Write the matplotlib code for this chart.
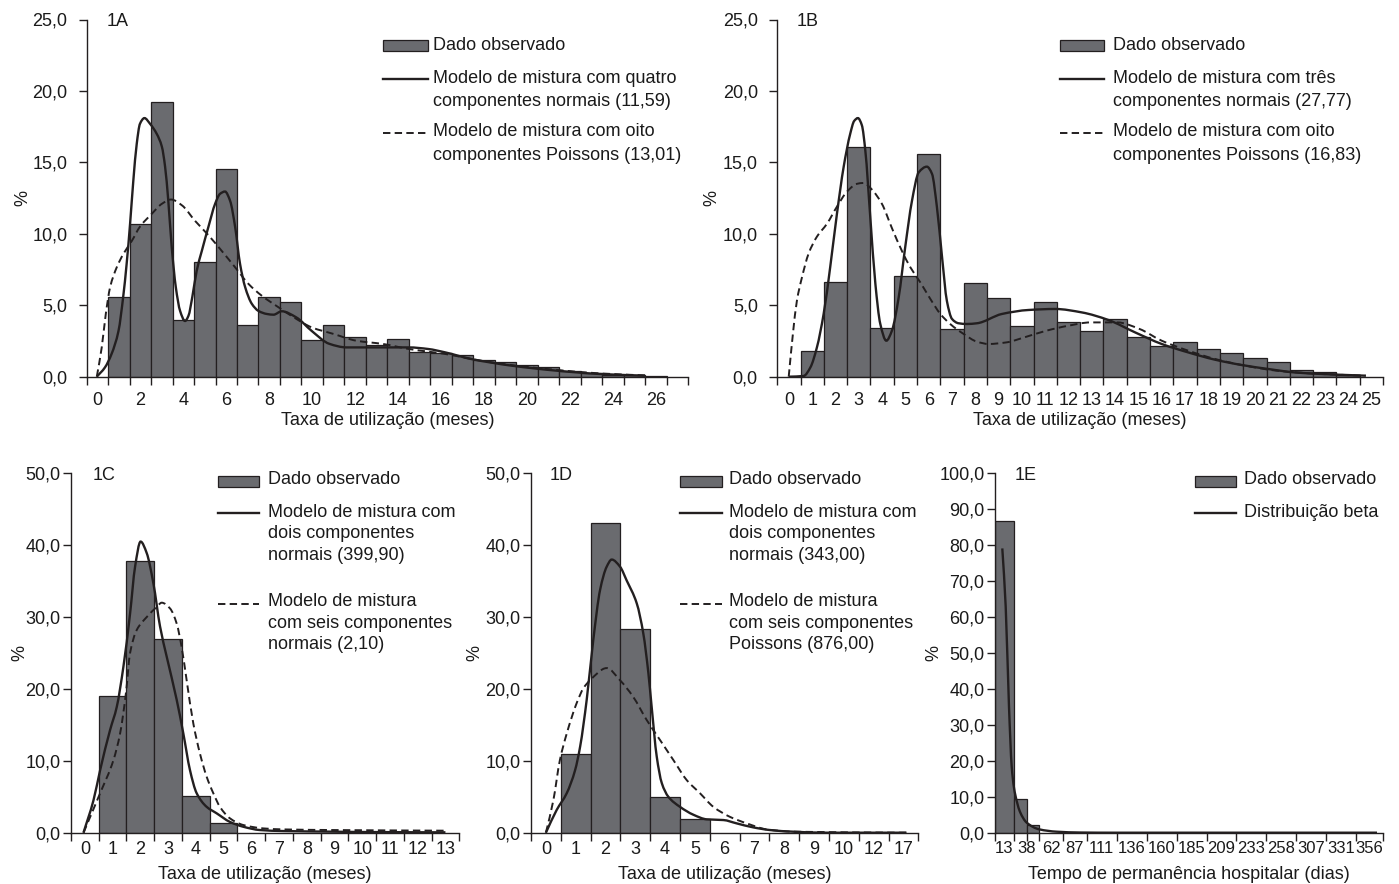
import matplotlib
matplotlib.use('Agg')
import matplotlib.pyplot as plt
from matplotlib.lines import Line2D
from matplotlib.patches import Rectangle, PathPatch
from matplotlib.path import Path

plt.rcParams['font.family'] = ['Liberation Sans', 'DejaVu Sans']

# ---------------- data ----------------
# Panel 1A
a_bar_x = list(range(1, 27))
a_bar_y = [5.6, 10.7, 19.25, 4.0, 8.05, 14.55, 3.6, 5.6, 5.25, 2.6, 3.65, 2.8, 2.25,
           2.65, 1.7, 1.65, 1.5, 1.15, 1.05, 0.8, 0.65, 0.4, 0.25, 0.15, 0.12, 0.08]
a_sol_x = [-0.03, 0.35, 0.66, 0.98, 1.2, 1.36, 1.52, 1.67, 1.83, 1.98, 2.19, 2.45, 2.76,
           3.0, 3.15, 3.3, 3.46, 3.65, 3.85, 4.08, 4.24, 4.42, 4.62, 4.86, 5.17, 5.48,
           5.71, 5.94, 6.18, 6.41, 6.64, 6.88, 7.19, 7.5, 7.89, 8.2, 8.58, 9.26, 9.98,
           10.8, 11.6, 13.1, 14.5, 15.4, 16.2, 17.4, 19.3, 21.4, 23.4, 25.5]
a_sol_y = [0.0, 0.65, 1.6, 3.2, 5.6, 7.9, 10.7, 13.7, 16.3, 17.7, 18.1, 17.7, 17.0,
           16.1, 14.7, 12.3, 9.06, 6.26, 4.6, 3.9, 4.27, 5.6, 7.4, 8.8, 10.5, 12.1,
           12.8, 12.96, 12.3, 10.5, 7.9, 6.26, 5.1, 4.6, 4.39, 4.34, 4.58, 4.15, 3.2,
           2.3, 2.05, 2.05, 2.05, 1.94, 1.7, 1.24, 0.77, 0.42, 0.19, 0.07]
a_das_x = [-0.03, 0.2, 0.39, 0.59, 0.9, 1.21, 1.6, 1.98, 2.53, 3.0, 3.43, 3.93, 4.55,
           5.17, 5.79, 6.41, 7.03, 7.65, 8.43, 9.15, 9.98, 11.0, 12.05, 13.3, 14.5, 16.2,
           17.85, 19.5, 21.4, 23.4, 25.5]
a_das_y = [0.0, 2.05, 4.4, 6.26, 7.66, 8.6, 9.5, 10.5, 11.4, 12.1, 12.4, 12.0, 10.9,
           9.9, 8.8, 7.66, 6.5, 5.67, 4.86, 4.15, 3.45, 2.99, 2.52, 2.29, 1.94, 1.59,
           1.12, 0.77, 0.47, 0.23, 0.09]
a_ticklabels = [str(v) for v in range(0, 27, 2)]

# Panel 1B
b_bar_x = list(range(1, 25))
b_bar_y = [1.8, 6.6, 16.05, 3.4, 7.05, 15.6, 3.35, 6.55, 5.5, 3.55, 5.2, 3.85, 3.2, 4.05,
           2.75, 2.15, 2.45, 1.95, 1.65, 1.3, 1.05, 0.45, 0.3, 0.15]
b_sol_x = [0.0, 0.63, 0.92, 1.2, 1.49, 1.77, 2.06, 2.35, 2.63, 2.8, 2.96, 3.13, 3.28,
           3.49, 3.71, 3.92, 4.18, 4.42, 4.71, 4.99, 5.28, 5.57, 5.92, 6.14, 6.35, 6.57,
           6.78, 7.0, 7.28, 7.64, 8.07, 9.14, 10.29, 11.43, 12.57, 13.71, 14.86, 16.0,
           17.14, 18.29, 19.43, 20.57, 21.7, 22.86, 24.76]
b_sol_y = [0.0, 0.05, 0.65, 2.05, 4.4, 7.66, 11.4, 14.7, 17.0, 17.9, 18.1, 17.6, 15.8,
           11.2, 6.5, 3.7, 2.52, 3.22, 5.55, 9.06, 12.3, 14.3, 14.7, 14.2, 11.9, 8.4,
           5.3, 4.04, 3.74, 3.69, 3.74, 4.39, 4.67, 4.74, 4.5, 3.97, 3.1, 2.29, 1.7,
           1.19, 0.82, 0.54, 0.30, 0.19, 0.07]
b_das_x = [-0.01, 0.17, 0.34, 0.56, 0.84, 1.2, 1.63, 2.06, 2.49, 2.92, 3.2, 3.56, 3.99,
           4.42, 4.85, 5.21, 5.64, 6.07, 6.5, 6.92, 7.5, 8.07, 8.57, 9.33, 10.1, 11.05,
           12.0, 12.95, 14.1, 15.05, 16.0, 17.14, 18.29, 19.43, 20.95, 22.86, 24.76]
b_das_y = [0.0, 3.0, 5.3, 6.96, 8.6, 9.8, 10.7, 11.9, 12.95, 13.5, 13.56, 13.1, 12.1,
           10.4, 8.8, 7.66, 6.6, 5.44, 4.39, 3.69, 2.99, 2.45, 2.29, 2.4, 2.75, 3.22,
           3.57, 3.8, 3.8, 3.34, 2.52, 1.82, 1.24, 0.82, 0.42, 0.19, 0.07]
b_ticklabels = [str(v) for v in range(0, 26)]

# Panel 1C
c_bar_x = [1, 2, 3, 4, 5]
c_bar_y = [19.0, 37.85, 26.9, 5.1, 1.4]
c_sol_x = [-0.05, 0.31, 0.55, 0.91, 1.15, 1.39, 1.63, 1.81, 2.01, 2.23, 2.47, 2.71, 2.95,
           3.31, 3.55, 3.79, 4.03, 4.39, 4.75, 5.23, 5.71, 6.31, 7.15, 8.96, 10.2, 13.0]
c_sol_y = [0.0, 4.5, 8.7, 14.3, 17.5, 23.1, 30.5, 37.0, 40.5, 38.9, 34.7, 28.7, 24.5,
           18.5, 13.8, 8.7, 5.5, 3.6, 2.7, 1.5, 0.83, 0.37, 0.23, 0.14, 0.09, 0.05]
c_das_x = [-0.05, 0.55, 1.03, 1.27, 1.48, 1.63, 1.87, 2.23, 2.59, 2.77, 3.07, 3.31, 3.49,
           3.67, 3.91, 4.15, 4.39, 4.63, 4.87, 5.23, 5.71, 6.43, 7.15, 8.96, 13.05]
c_das_y = [0.0, 5.5, 10.1, 13.8, 19.4, 25.0, 28.2, 30.0, 31.4, 32.0, 31.2, 29.1, 25.8,
           21.2, 15.2, 11.0, 7.8, 5.5, 3.6, 2.0, 1.07, 0.6, 0.46, 0.37, 0.28]
c_ticklabels = [str(v) for v in range(0, 14)]

# Panel 1D
d_bar_x = [1, 2, 3, 4, 5]
d_bar_y = [10.9, 43.1, 28.4, 5.0, 1.9]
d_sol_x = [0.0, 0.36, 0.7, 0.98, 1.15, 1.37, 1.59, 1.82, 2.04, 2.21, 2.49, 2.71, 3.05,
           3.27, 3.44, 3.55, 3.72, 3.89, 4.11, 4.5, 4.95, 5.4, 5.96, 6.4, 6.96, 7.52, 8.3,
           9.42, 12.1]
d_sol_y = [0.0, 3.15, 5.5, 8.7, 12.0, 18.5, 26.8, 33.8, 37.0, 38.0, 37.0, 35.1, 31.9,
           27.7, 22.2, 17.5, 10.6, 6.9, 5.0, 3.6, 2.5, 1.86, 1.76, 1.3, 0.74, 0.37, 0.14,
           0.0, 0.0]
d_das_x = [0.0, 0.25, 0.47, 0.7, 1.03, 1.26, 1.48, 2.04, 2.49, 2.93, 3.38, 3.83, 4.28,
           4.73, 5.17, 5.62, 6.18, 6.74, 7.41, 8.3, 12.1]
d_das_y = [0.0, 4.5, 10.1, 13.8, 18.0, 20.1, 21.2, 22.9, 21.2, 18.9, 15.7, 12.9, 10.1,
           7.3, 5.5, 3.6, 2.2, 1.3, 0.46, 0.14, 0.0]
d_ticklabels = ['0', '1', '2', '3', '4', '5', '6', '7', '8', '9', '10', '12', '17']

# Panel 1E (x in display units of the original, non-uniform category axis)
e_labels = ['13', '38', '62', '87', '111', '136', '160', '185', '209', '233', '258',
            '307', '331', '356']
e_bar_y = [86.8, 9.3, 2.1]
e_cur_x = [7.3, 10.7, 14.0, 16.7, 19.0, 22.0, 25.0, 31.7, 44.3, 61.7, 85.0, 120.0, 382.0]
e_cur_y = [79.1, 62.9, 35.0, 18.4, 12.5, 8.5, 5.8, 2.8, 0.93, 0.28, 0.05, 0.0, 0.0]

# ---------------- layout / style ----------------
E_EDGES = [0, 19, 31.7, 44.3, 67.7, 91.7, 121.7, 151.7, 181.7, 211.7, 241, 270.7,
           300.7, 330.7, 360.7, 387.7]
E_SPANS = [(0, 1), (1, 3), (3, 4), (4, 5), (5, 6), (6, 7), (7, 8), (8, 9), (9, 10),
           (10, 11), (11, 12), (12, 13), (13, 14), (14, 15)]

W, H = 1399, 884
fig = plt.figure(figsize=(W / 100, H / 100), dpi=100)
BAR = '#6a6b6f'
INK = '#231f20'
TXT = '#1a1a1a'
FS = 13
DASH = (0, (3.8, 2.2))


def px_axes(x0, x1, yt, yb):
    return fig.add_axes([x0 / W, 1 - yb / H, (x1 - x0) / W, (yb - yt) / H])


def style(ax, xlim, ymax, ystep, tick_pos, tick_lab, minor_pos, ypad, xpad,
          xfs=FS, ylab_dx=60, xlab_dy=43):
    for s in ('top', 'right'):
        ax.spines[s].set_visible(False)
    for s in ('left', 'bottom'):
        ax.spines[s].set_linewidth(1.0)
        ax.spines[s].set_color(INK)
    ax.set_xlim(*xlim)
    ax.set_ylim(0, ymax)
    yt = [i * ystep for i in range(int(round(ymax / ystep)) + 1)]
    ax.set_yticks(yt)
    ax.set_yticklabels([f"{v:.1f}".replace('.', ',') for v in yt], fontsize=FS)
    ax.tick_params(axis='y', direction='out', length=6, width=1, pad=ypad,
                   colors=INK, labelcolor=TXT)
    ax.set_xticks(tick_pos)
    ax.set_xticklabels(tick_lab, fontsize=xfs)
    ax.set_xticks(minor_pos, minor=True)
    ax.tick_params(axis='x', which='major', length=0, pad=xpad, labelcolor=TXT)
    ax.tick_params(axis='x', which='minor', direction='out', length=6, width=1,
                   colors=INK)
    bb = ax.get_position()
    wpx, hpx = bb.width * W, bb.height * H
    ax.set_ylabel('%', fontsize=FS, color=TXT)
    ax.yaxis.set_label_coords(-ylab_dx / wpx, 0.5)
    ax.yaxis.label.set_va('center')
    ax.xaxis.set_label_coords(0.5, -xlab_dy / hpx)
    ax.xaxis.label.set_va('center')


def smooth_path(xs, ys):
    """Monotone cubic (PCHIP-style) Bezier path through the read points."""
    n = len(xs)
    h = [xs[i + 1] - xs[i] for i in range(n - 1)]
    d = [(ys[i + 1] - ys[i]) / h[i] for i in range(n - 1)]
    m = [0.0] * n
    m[0], m[-1] = d[0], d[-1]
    for k in range(1, n - 1):
        if d[k - 1] * d[k] <= 0:
            m[k] = 0.0
        else:
            w1 = 2 * h[k] + h[k - 1]
            w2 = h[k] + 2 * h[k - 1]
            m[k] = (w1 + w2) / (w1 / d[k - 1] + w2 / d[k])
    verts = [(xs[0], ys[0])]
    codes = [Path.MOVETO]
    for i in range(n - 1):
        t = h[i] / 3.0
        verts += [(xs[i] + t, ys[i] + m[i] * t),
                  (xs[i + 1] - t, ys[i + 1] - m[i + 1] * t),
                  (xs[i + 1], ys[i + 1])]
        codes += [Path.CURVE4] * 3
    return Path(verts, codes)


def curve(ax, xs, ys, dashed=False):
    kw = dict(ls=DASH, lw=1.4) if dashed else dict(ls='-', lw=1.7)
    ax.add_patch(PathPatch(smooth_path(xs, ys), fill=False, edgecolor=INK, zorder=3,
                           capstyle='butt', **kw))


def bars(ax, x, y, width=1.0):
    ax.bar(x, y, width=width, color=BAR, edgecolor=INK, linewidth=0.9, zorder=2,
           align='center')


def fpt(x, y):
    return x / W, 1 - y / H


def leg_patch(x0, x1, yc):
    fig.patches.append(Rectangle(fpt(x0, yc + 5.5), (x1 - x0) / W, 11 / H,
                                 transform=fig.transFigure, facecolor=BAR,
                                 edgecolor=INK, lw=0.9))


def leg_line(x0, x1, yc, dashed=False):
    kw = dict(ls=DASH, lw=1.4) if dashed else dict(ls='-', lw=1.7)
    fig.add_artist(Line2D([x0 / W, x1 / W], [1 - yc / H] * 2, transform=fig.transFigure,
                          color=INK, **kw))


def ftext(x, y, s, fs=FS):
    fig.text(x / W, 1 - y / H, s, ha='left', va='center', fontsize=fs, color=TXT)


def half_ticks(n_last):
    return [i - 0.5 for i in range(0, n_last + 2)]


# ---------- 1A ----------
axA = px_axes(86.7, 688, 19.5, 376.7)
bars(axA, a_bar_x, a_bar_y)
curve(axA, a_sol_x, a_sol_y)
curve(axA, a_das_x, a_das_y, dashed=True)
style(axA, (-0.5, 27.5), 25, 5, list(range(0, 27, 2)), a_ticklabels, half_ticks(27),
      ypad=8, xpad=11, ylab_dx=64, xlab_dy=44)
axA.set_xlabel('Taxa de utilização (meses)', fontsize=FS, color=TXT)

# ---------- 1B ----------
axB = px_axes(777.3, 1383, 19.5, 376.7)
bars(axB, b_bar_x, b_bar_y)
curve(axB, b_sol_x, b_sol_y)
curve(axB, b_das_x, b_das_y, dashed=True)
style(axB, (-0.5, 25.5), 25, 5, list(range(0, 26)), b_ticklabels, half_ticks(25),
      ypad=8, xpad=11, ylab_dx=65, xlab_dy=44)
axB.set_xlabel('Taxa de utilização (meses)', fontsize=FS, color=TXT)

# ---------- 1C ----------
axC = px_axes(71, 459.3, 473.3, 832.7)
bars(axC, c_bar_x, c_bar_y)
curve(axC, c_sol_x, c_sol_y)
curve(axC, c_das_x, c_das_y, dashed=True)
style(axC, (-0.5, 13.5), 50, 10, list(range(0, 14)), c_ticklabels, half_ticks(13),
      ypad=1.5, xpad=6, ylab_dx=51, xlab_dy=42)
axC.set_xlabel('Taxa de utilização (meses)', fontsize=FS, color=TXT)

# ---------- 1D ----------
axD = px_axes(531, 918.3, 473.3, 832.7)
bars(axD, d_bar_x, d_bar_y)
curve(axD, d_sol_x, d_sol_y)
curve(axD, d_das_x, d_das_y, dashed=True)
style(axD, (-0.5, 12.5), 50, 10, list(range(0, 13)), d_ticklabels, half_ticks(12),
      ypad=1.5, xpad=6, ylab_dx=56, xlab_dy=42)
axD.set_xlabel('Taxa de utilização (meses)', fontsize=FS, color=TXT)

# ---------- 1E ----------
axE = px_axes(995, 1382.7, 473.3, 832.7)
e_left = E_EDGES[:len(e_bar_y)]
e_width = [E_EDGES[i + 1] - E_EDGES[i] for i in range(len(e_bar_y))]
axE.bar(e_left, e_bar_y, width=e_width, align='edge', color=BAR, edgecolor=INK,
        linewidth=0.9, zorder=2)
curve(axE, e_cur_x, e_cur_y)
e_pos = [(E_EDGES[a] + E_EDGES[b]) / 2 for a, b in E_SPANS]
style(axE, (0, E_EDGES[-1]), 100, 10, e_pos, e_labels, E_EDGES,
      ypad=1.5, xpad=6, xfs=12, ylab_dx=61, xlab_dy=42)
axE.set_xlabel('Tempo de permanência hospitalar (dias)', fontsize=FS, color=TXT)

# ---------- panel tags ----------
for x, y, s in [(107, 22, '1A'), (797, 22, '1B'), (93, 476, '1C'), (550, 476, '1D'),
                (1015, 476, '1E')]:
    ftext(x, y, s)

# ---------- legends ----------
# 1A
leg_patch(383, 428, 45); ftext(433, 45, 'Dado observado')
leg_line(383, 428, 79); ftext(433, 78.3, 'Modelo de mistura com quatro')
ftext(433, 101.7, 'componentes normais (11,59)')
leg_line(383, 428, 133, True); ftext(433, 131.7, 'Modelo de mistura com oito')
ftext(433, 155, 'componentes Poissons (13,01)')
# 1B
leg_patch(1060, 1104, 45); ftext(1113, 45, 'Dado observado')
leg_line(1060, 1104, 79); ftext(1113, 78.3, 'Modelo de mistura com três')
ftext(1113, 101.7, 'componentes normais (27,77)')
leg_line(1060, 1104, 133, True); ftext(1113, 131.7, 'Modelo de mistura com oito')
ftext(1113, 155, 'componentes Poissons (16,83)')
# 1C
leg_patch(218, 259, 481); ftext(268, 480, 'Dado observado')
leg_line(218, 259, 513); ftext(268, 512.7, 'Modelo de mistura com')
ftext(268, 534, 'dois componentes'); ftext(268, 555.5, 'normais (399,90)')
leg_line(218, 259, 604, True); ftext(268, 601.7, 'Modelo de mistura')
ftext(268, 623.3, 'com seis componentes'); ftext(268, 644.7, 'normais (2,10)')
# 1D
leg_patch(680, 721.7, 481); ftext(729.3, 480, 'Dado observado')
leg_line(680, 721.7, 513); ftext(729.3, 512.7, 'Modelo de mistura com')
ftext(729.3, 534, 'dois componentes'); ftext(729.3, 555.5, 'normais (343,00)')
leg_line(680, 721.7, 604, True); ftext(729.3, 601.7, 'Modelo de mistura')
ftext(729.3, 623.3, 'com seis componentes'); ftext(729.3, 644.7, 'Poissons (876,00)')
# 1E
leg_patch(1195, 1236, 481); ftext(1244.3, 480, 'Dado observado')
leg_line(1195, 1236, 513); ftext(1244.3, 512.7, 'Distribuição beta')

fig.savefig('out.png', dpi=100, facecolor='white')
